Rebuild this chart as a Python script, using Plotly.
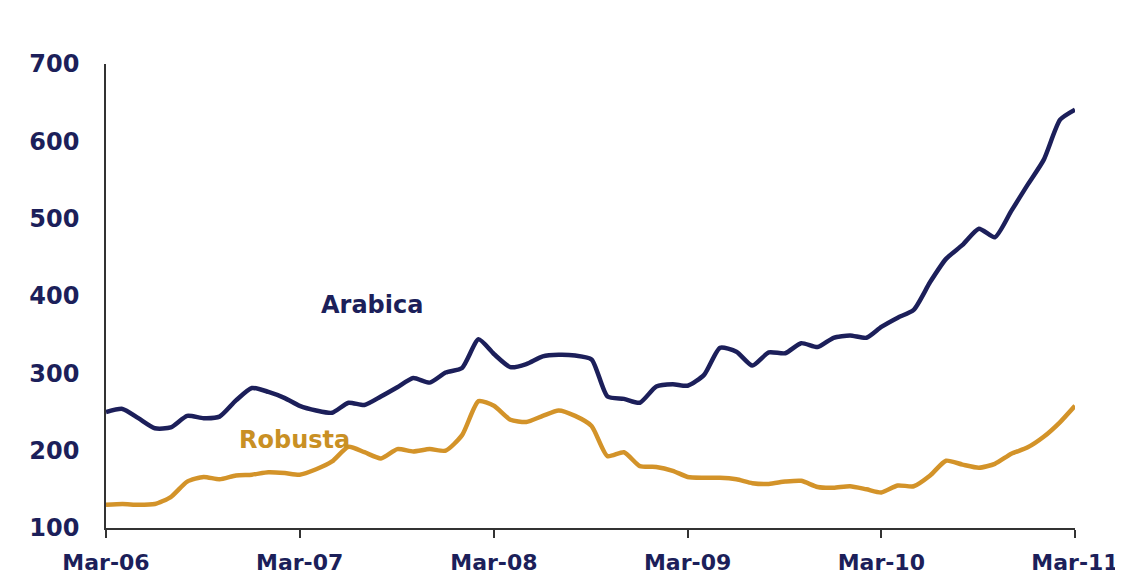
import pandas as pd
import plotly.graph_objects as go

months = pd.date_range("2006-03-01", periods=61, freq="MS")

arabica = [250, 254, 242, 229, 230, 245, 242, 244, 265, 281, 276, 268,
           258, 252, 249, 262, 259, 270, 282, 294, 288, 301, 307, 344,
           325, 308, 312, 322, 324, 323, 318, 270, 267, 262, 283, 286,
           284, 298, 333, 328, 310, 327, 326, 339, 334, 346, 349, 346,
           360, 372, 382, 418, 448, 466, 487, 476, 510, 543, 576, 628,
           641]

robusta = [130, 131, 130, 131, 140, 160, 166, 163, 168, 169, 172, 171,
           169, 176, 186, 205, 198, 190, 202, 199, 202, 200, 220, 264,
           258, 240, 237, 245, 252, 245, 232, 193, 198, 180, 179, 174,
           166, 165, 165, 163, 158, 157, 160, 161, 153, 152, 154, 150,
           146, 155, 154, 168, 187, 182, 178, 183, 196, 204, 218, 237,
           258]

tick_dates = ["2006-03-01", "2007-03-01", "2008-03-01", "2009-03-01", "2010-03-01", "2011-03-01"]
tick_labels = ["Mar-06", "Mar-07", "Mar-08", "Mar-09", "Mar-10", "Mar-11"]
y_ticks = [100, 200, 300, 400, 500, 600, 700]

NAVY = "#1c1f5a"
GOLD = "#d39329"

fig = go.Figure()
fig.add_trace(go.Scatter(x=months, y=arabica, mode="lines", name="Arabica",
                         line=dict(color=NAVY, width=4.5, shape="spline", smoothing=0.6)))
fig.add_trace(go.Scatter(x=months, y=robusta, mode="lines", name="Robusta",
                         line=dict(color=GOLD, width=4.5, shape="spline", smoothing=0.6)))

fig.add_annotation(x="2007-07-15", y=388, text="<b>Arabica</b>", showarrow=False,
                   font=dict(family="DejaVu Sans", size=24, color=NAVY))
fig.add_annotation(x="2007-02-20", y=214, text="<b>Robusta</b>", showarrow=False,
                   font=dict(family="DejaVu Sans", size=24, color="#c99024"))

# the page places the figure 8px from the window's top-left corner
fig.update_layout(
    width=1115, height=567,
    margin=dict(l=98, r=48, t=56, b=47),
    paper_bgcolor="white", plot_bgcolor="white",
    showlegend=False,
    xaxis=dict(range=["2006-03-01", "2011-03-01"], tickvals=tick_dates, ticktext=tick_labels,
               automargin=False,
               showgrid=False, zeroline=False, showline=True, linecolor="#333333", linewidth=1.5,
               ticks="outside", ticklen=8, tickcolor="#333333", tickwidth=1.5,
               ticklabelstandoff=6,
               tickfont=dict(family="DejaVu Sans", size=22, color=NAVY, weight="bold")),
    yaxis=dict(range=[100, 700], tickvals=y_ticks, showgrid=False, zeroline=False,
               automargin=False,
               showline=True, linecolor="#333333", linewidth=1.5, ticks="",
               ticklabelstandoff=20,
               tickfont=dict(family="DejaVu Sans", size=24, color=NAVY, weight="bold")),
)

fig.write_html("out.html")
